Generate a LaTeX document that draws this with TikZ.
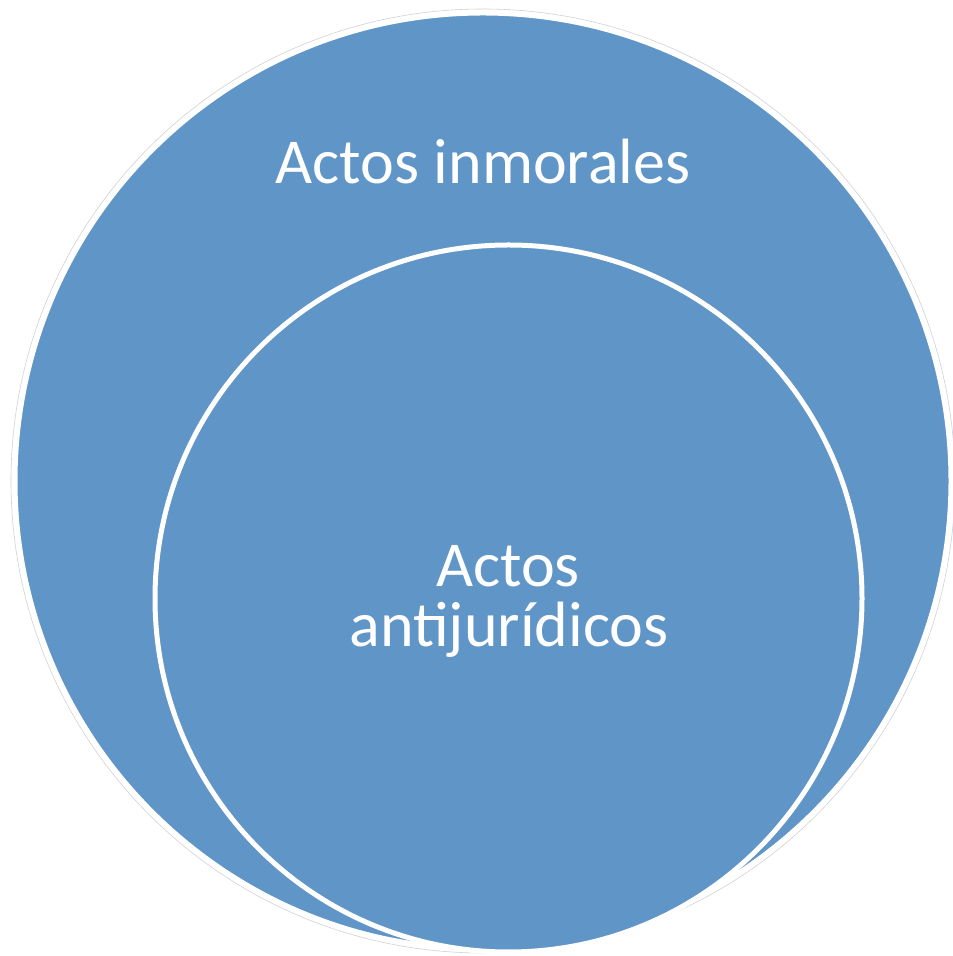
\documentclass[tikz,border=0pt]{standalone}
\usepackage{fontspec}
\setmainfont{Carlito}
\definecolor{circblue}{RGB}{96,149,199}
\begin{document}
\begin{tikzpicture}[x=1pt,y=1pt,
  circ/.style={fill=circblue,draw=white},
  lbl/.style={text=white,font=\fontsize{64}{64}\selectfont,inner sep=0pt,anchor=base}]
\useasboundingbox (0,0) rectangle (953,956);
\fill[white] (0,0) rectangle (953,956);
\draw[gray!35,line width=0.6pt] (483,475) circle (472);
\draw[circ,line width=4pt] (483,475) circle (467.5);
\draw[circ,line width=5pt] (508.5,357.5) circle (353.5);
\node[lbl] (outer) at (483,772) {Actos inmorales};
\node[lbl] (inner1) at (508,369) {Actos};
\node[lbl] (inner2) at (509,309) {antijurídicos};
\end{tikzpicture}
\end{document}
